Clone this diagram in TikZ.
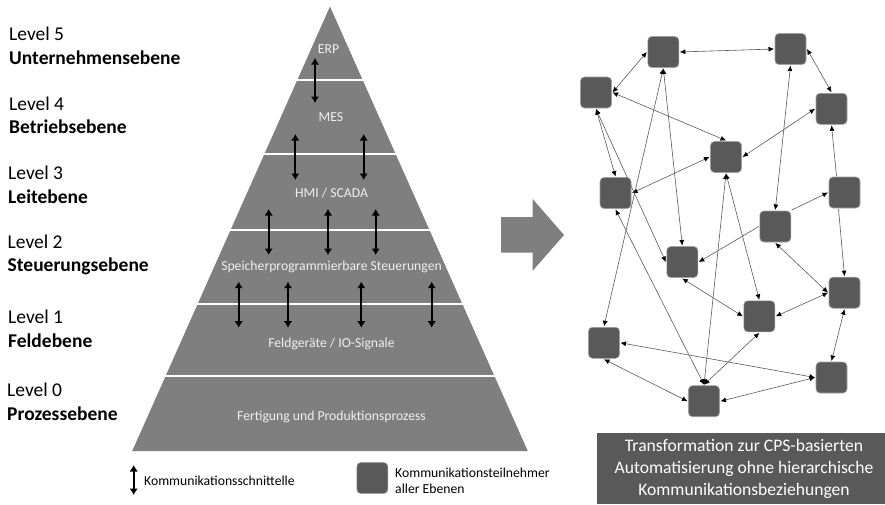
\documentclass[tikz,border=0pt]{standalone}
\usepackage{fontspec}
\setmainfont{Carlito}
\usetikzlibrary{arrows.meta}
\definecolor{pyr}{HTML}{7F7F7F}
\definecolor{part}{HTML}{595959}
\definecolor{partb}{HTML}{A0A0A0}
\definecolor{lbl}{HTML}{F0F0F0}
\tikzset{
  px/.style={x=1pt,y=-1pt},
  part/.style={draw=partb,line width=0.6pt,fill=part,rounded corners=4pt,minimum size=31pt,inner sep=0pt,outer sep=1pt},
  net/.style={line width=0.6pt,draw=black!65,{Latex[length=5.5pt,width=5pt,black]}-{Latex[length=5.5pt,width=5pt,black]}},
  netone/.style={line width=0.6pt,draw=black!65,-{Latex[length=5.5pt,width=5pt,black]}},
  pyrarrow/.style={line width=2.3pt,black,{Latex[length=6.5pt,width=8.5pt]}-{Latex[length=6.5pt,width=8.5pt]}},
  pyrlabel/.style={text=lbl,font=\fontsize{13.7}{16}\selectfont,inner sep=0pt},
  level/.style={anchor=west,align=left,inner sep=0pt,font=\fontsize{19.5}{23.5}\selectfont},
  legend/.style={anchor=west,align=left,inner sep=0pt,font=\fontsize{13.7}{16}\selectfont},
  sep/.style={draw=white,line width=2pt}
}
\begin{document}
\begin{tikzpicture}[px]
\useasboundingbox (0,0) rectangle (885,504);
% pyramid
\fill[pyr] (330,6) -- (528,451) -- (132,451) -- cycle;
\foreach \y in {79.5,154,229.5,303.7,375.7} \draw[sep] (120,\y) -- (540,\y);
\fill[white] (330,6) -- (120,478) -- (120,0) -- (330,0) -- cycle;
\fill[white] (330,6) -- (540,478) -- (540,0) -- (330,0) -- cycle;
\node[pyrlabel] (erp) at (328.5,49.5) {ERP};
\node[pyrlabel] (mes) at (331,116.7) {MES};
\node[pyrlabel] (hmi) at (331.5,192.7) {HMI / SCADA};
\node[pyrlabel] (sps) at (331.5,266.7) {Speicherprogrammierbare Steuerungen};
\node[pyrlabel] (feld) at (331.5,344) {Feldgeräte / IO-Signale};
\node[pyrlabel] (fert) at (331.5,416.7) {Fertigung und Produktionsprozess};
\foreach \n/\x/\ya/\yb in {a/315/58/103,b/295.3/134/180,c/363.7/134/180,d/268.7/209/255,e/328/209/255,f/375.7/209/255,g/238.7/281.7/327.7,h/288/281.7/327.7,i/361.3/281.7/327.7,j/431.7/281.7/327.7,k/133.7/465/495}{
  \coordinate (pt\n) at (\x,\ya);
  \coordinate (pb\n) at (\x,\yb);
  \draw[pyrarrow] (pt\n) -- (pb\n);
}
% level labels
\node[level] (l5) at (9,45.8) {Level 5\\\textbf{Unternehmensebene}};
\node[level] (l4) at (9,115.5) {Level 4\\\textbf{Betriebsebene}};
\node[level] (l3) at (8,185) {Level 3\\\textbf{Leitebene}};
\node[level] (l2) at (7.5,255) {Level 2\\\textbf{Steuerungsebene}};
\node[level] (l1) at (8,329) {Level 1\\\textbf{Feldebene}};
\node[level] (l0) at (7,402) {Level 0\\\textbf{Prozessebene}};
% big arrow
\fill[pyr] (501,217) -- (532.7,217) -- (532.7,199) -- (564,235) -- (532.7,270.7) -- (532.7,252.7) -- (501,252.7) -- cycle;
% legend
\node[legend] (lega) at (144,481) {Kommunikationsschnittelle};
\node[part] (legb) at (372.3,478) {};
\node[legend] (legc) at (395,481) {Kommunikationsteilnehmer\\aller Ebenen};
% network
\coordinate (ca) at (663.3,52);
\coordinate (cb) at (790.5,49);
\coordinate (cc) at (596,92.5);
\coordinate (cd) at (831.5,108.8);
\coordinate (ce) at (726,157);
\coordinate (cf) at (615.5,193);
\coordinate (cg) at (844.5,192.5);
\coordinate (ch) at (775.3,226.5);
\coordinate (ci) at (682.3,262);
\coordinate (cj) at (844.5,292.7);
\coordinate (ck) at (759.3,316.3);
\coordinate (cl) at (604,342.8);
\coordinate (cm) at (831.5,377.5);
\coordinate (cn) at (704,401.2);
\foreach \n in {a,b,c,d,e,f,g,h,i,j,k,l,m,n} \node[part] (\n) at (c\n) {};
\draw[net] (a.west) -- (c.east);
\draw[net] (a.east) -- (b.west);
\draw[net] (b.east) -- (d.north);
\draw[net] (c.east) -- (e.north);
\draw[net] (d.west) -- (e.east);
\draw[net] (e.west) -- (f.east);
\draw[net] (c.south) -- (f.north);
\draw[net] (b.south) -- (h.north);
\draw[net] (a.south) -- (l.north);
\draw[net] (a.south) -- (i.north);
\draw[net] (c.south) -- (i.west);
\draw[net] (e.south) -- (n.north);
\draw[net] (e.south) -- (k.north);
\draw[net] (f.south) -- (n.north);
\draw[net] (h.south) -- (j.west);
\draw[net] (i.south) -- (k.west);
\draw[net] (j.west) -- (k.east);
\draw[net] (j.south) -- (m.north);
\draw[net] (k.south) -- (n.north);
\draw[net] (l.east) -- (m.west);
\draw[net] (l.south) -- (n.west);
\draw[net] (m.west) -- (n.east);
\draw[netone] ([xshift=-8pt]g.north) -- (d.south);
\draw[netone] ([xshift=-6pt]g.south) -- (j.north);
\draw[netone] (h.north east) -- (g.west);
\draw[netone] (h.west) -- (i.east);
% box
\node[fill=part,minimum width=288pt,minimum height=71pt,inner sep=0pt] (box) at (741,468.5) {};
\node[text=white,inner sep=0pt,align=center,font=\fontsize{17.6}{22}\selectfont] (boxtext) at (744,468.5) {Transformation zur CPS-basierten\\Automatisierung ohne hierarchische\\Kommunikationsbeziehungen};
\end{tikzpicture}
\end{document}
